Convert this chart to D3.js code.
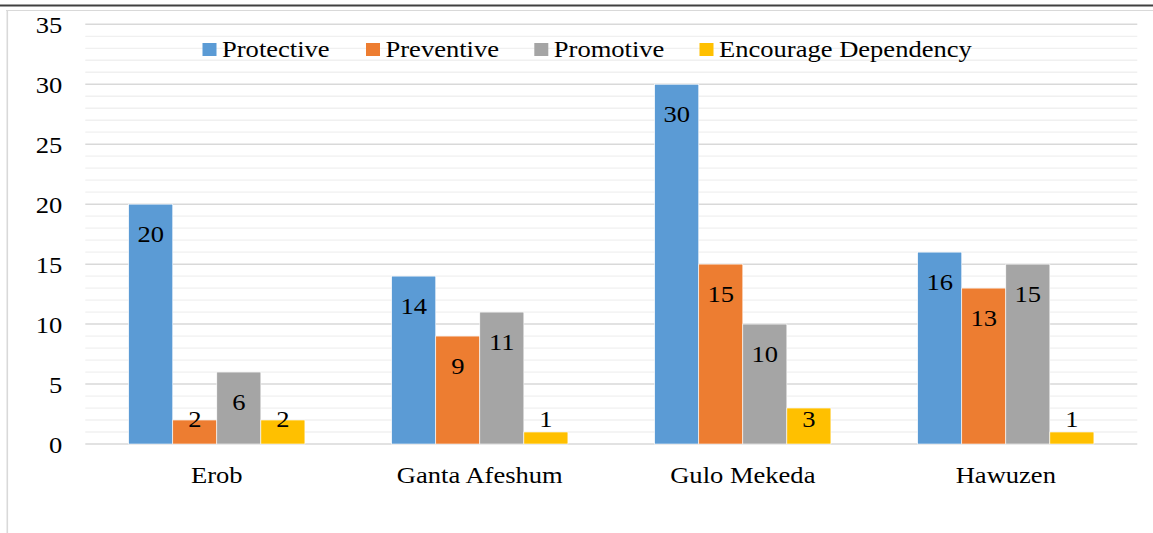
<!DOCTYPE html>
<html>
<head>
<meta charset="utf-8">
<script src="https://cdn.jsdelivr.net/npm/d3@7"></script>
<style>
  body { margin: 0; background: #fff; }
</style>
</head>
<body>
<div id="chart"></div>
<script>
var districts = ["Erob", "Ganta Afeshum", "Gulo Mekeda", "Hawuzen"];
var seriesNames = ["Protective", "Preventive", "Promotive", "Encourage Dependency"];
var protective = [20, 14, 30, 16];
var preventive = [2, 9, 15, 13];
var promotive = [6, 11, 10, 15];
var dependency = [2, 1, 3, 1];
var colors = ["#5B9BD5", "#ED7D31", "#A5A5A5", "#FFC000"];
var yTicks = [0, 5, 10, 15, 20, 25, 30, 35];

var series = [protective, preventive, promotive, dependency];

var W = 1153, H = 533;
var margin = {top: 24.3, right: 15.7, bottom: 89, left: 85.3};
var width = W - margin.left - margin.right,
    height = H - margin.top - margin.bottom;
var FONT = "'Liberation Serif'";
var SX = 1.155; // reference text is stretched horizontally

var svg = d3.select("#chart").append("svg")
    .attr("width", W).attr("height", H);

// stretched text helper
function addText(sel, x, y, txt, anchor) {
    return sel.append("text")
        .attr("transform", "translate(" + x + "," + y + ") scale(" + SX + ",1)")
        .attr("text-anchor", anchor || "start")
        .style("font-family", FONT)
        .style("font-size", "23px")
        .attr("fill", "#000")
        .text(txt);
}

// frame lines
svg.append("line").attr("x1", 0).attr("x2", W).attr("y1", 5.5).attr("y2", 5.5)
    .attr("stroke", "#404040").attr("stroke-width", 2);
svg.append("line").attr("x1", 6).attr("x2", W).attr("y1", 10.5).attr("y2", 10.5)
    .attr("stroke", "#d9d9d9").attr("stroke-width", 1);
svg.append("line").attr("x1", 7.3).attr("x2", 7.3).attr("y1", 10).attr("y2", H)
    .attr("stroke", "#d9d9d9").attr("stroke-width", 1.6);

var g = svg.append("g")
    .attr("transform", "translate(" + margin.left + "," + margin.top + ")");

var y = d3.scaleLinear().domain([0, 35]).range([height, 0]);
var x0 = d3.scaleBand().domain(districts).range([0, width]).paddingInner(0.33).paddingOuter(0.165);
var x1 = d3.scaleBand().domain(d3.range(seriesNames.length)).range([0, x0.bandwidth()]);

// minor gridlines
g.append("g").selectAll("line")
    .data(d3.range(0, 36).filter(v => v % 5 != 0))
    .enter().append("line")
    .attr("x1", 0).attr("x2", width)
    .attr("y1", d => y(d)).attr("y2", d => y(d))
    .attr("stroke", "#f0f0f0").attr("stroke-width", 1.3);

// major gridlines
g.append("g").selectAll("line")
    .data(yTicks)
    .enter().append("line")
    .attr("x1", 0).attr("x2", width)
    .attr("y1", d => y(d)).attr("y2", d => y(d))
    .attr("stroke", "#d9d9d9").attr("stroke-width", 1.5);

// y tick labels
var yLab = g.append("g");
yTicks.forEach(t => addText(yLab, -23, y(t) + 8.5, t, "end"));

// bars
var groups = g.selectAll(".grp")
    .data(districts)
    .enter().append("g")
    .attr("class", "grp")
    .attr("transform", d => "translate(" + x0(d) + ",0)");

groups.each(function(name, i) {
    var grp = d3.select(this);
    series.forEach(function(s, k) {
        var v = s[i];
        grp.append("rect")
            .attr("x", x1(k))
            .attr("width", x1.bandwidth())
            .attr("y", y(v))
            .attr("height", height - y(v))
            .attr("fill", colors[k])
            .attr("stroke", "#fff").attr("stroke-width", 0.6);
        addText(grp, x1(k) + x1.bandwidth() / 2, Math.min(y(v) + 37.5, height - 17.5), v, "middle");
    });
});

// x category labels
var xLab = g.append("g");
districts.forEach(d => addText(xLab, x0(d) + x0.bandwidth() / 2, height + 38.5, d, "middle"));

// legend
var legendX = [202.5, 366, 534.3, 699.5];
var legend = svg.append("g");
seriesNames.forEach(function(name, i) {
    legend.append("rect")
        .attr("x", legendX[i]).attr("y", 43)
        .attr("width", 14).attr("height", 13)
        .attr("fill", colors[i]);
    addText(legend, legendX[i] + 19.5, 56.5, name, "start");
});
</script>
</body>
</html>
